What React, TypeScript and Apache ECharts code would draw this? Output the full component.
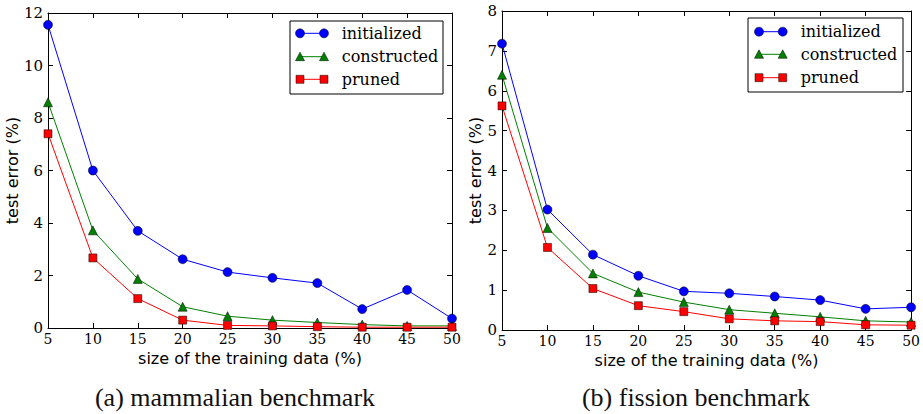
import React, { useEffect, useRef } from "react";
import * as echarts from "echarts";

const xValues = [5, 10, 15, 20, 25, 30, 35, 40, 45, 50];
const seriesNames = ["initialized", "constructed", "pruned"];
const seriesColors = ["#0000ff", "#008000", "#ff0000"];
const seriesSymbols = ["circle", "triangle", "rect"];

const mammalInitialized = [11.55, 6.0, 3.7, 2.62, 2.13, 1.91, 1.71, 0.72, 1.45, 0.36];
const mammalConstructed = [8.6, 3.72, 1.87, 0.81, 0.45, 0.3, 0.21, 0.13, 0.08, 0.08];
const mammalPruned = [7.4, 2.67, 1.12, 0.3, 0.1, 0.08, 0.05, 0.03, 0.03, 0.03];

const fissionInitialized = [7.18, 3.02, 1.89, 1.36, 0.97, 0.92, 0.84, 0.75, 0.53, 0.57];
const fissionConstructed = [6.4, 2.56, 1.42, 0.95, 0.7, 0.51, 0.42, 0.33, 0.23, 0.2];
const fissionPruned = [5.62, 2.07, 1.04, 0.61, 0.46, 0.28, 0.23, 0.21, 0.13, 0.12];

const xAxisTitle = "size of the training data (%)";
const yAxisTitle = "test error (%)";
const captions = ["(a) mammalian benchmark", "(b) fission benchmark"];

const SERIF = "DejaVu Serif";
const SANS = "DejaVu Sans";
const CAPTION_FONT = "Liberation Serif";

function xAxisDef(gridIndex: number, position: "bottom" | "top", nameGap: number) {
  const bottom = position === "bottom";
  return {
    type: "value",
    gridIndex,
    position,
    min: 5,
    max: 50,
    interval: 5,
    axisLine: { show: true, onZero: false, lineStyle: { color: "#000", width: 1 } },
    axisTick: { show: true, inside: true, length: 5, lineStyle: { color: "#000", width: 1 } },
    axisLabel: {
      show: bottom,
      margin: 4,
      fontFamily: SERIF,
      fontSize: 14,
      color: "#000",
    },
    splitLine: { show: false },
    name: bottom ? xAxisTitle : "",
    nameLocation: "middle",
    nameGap,
    nameTextStyle: { fontFamily: SANS, fontSize: 16, color: "#000" },
  };
}

function yAxisDef(
  gridIndex: number,
  position: "left" | "right",
  max: number,
  interval: number,
  nameGap: number
) {
  const left = position === "left";
  return {
    type: "value",
    gridIndex,
    position,
    min: 0,
    max,
    interval,
    axisLine: { show: true, onZero: false, lineStyle: { color: "#000", width: 1 } },
    axisTick: { show: true, inside: true, length: 5, lineStyle: { color: "#000", width: 1 } },
    axisLabel: {
      show: left,
      margin: 5,
      fontFamily: SERIF,
      fontSize: 15,
      color: "#000",
    },
    splitLine: { show: false },
    name: left ? yAxisTitle : "",
    nameLocation: "middle",
    nameGap,
    nameRotate: 90,
    nameTextStyle: { fontFamily: SANS, fontSize: 16, color: "#000" },
  };
}

function lineSeries(name: string, idx: number, axisIndex: number, ys: number[]) {
  const sym = seriesSymbols[idx];
  return {
    type: "line",
    name,
    xAxisIndex: axisIndex * 2,
    yAxisIndex: axisIndex * 2,
    data: xValues.map((x, i) => [x, ys[i]]),
    symbol: sym,
    symbolSize: sym === "circle" ? 9 : sym === "triangle" ? 9 : 8,
    showAllSymbol: true,
    clip: true,
    lineStyle: { color: seriesColors[idx], width: 1 },
    itemStyle: { color: seriesColors[idx], borderColor: "#000", borderWidth: 0.5 },
    emphasis: { disabled: true },
  };
}

function legendGraphic(
  boxX: number,
  boxY: number,
  boxW: number,
  boxH: number,
  rowYs: number[],
  lineX0: number,
  lineX1: number,
  textX: number
) {
  const children: any[] = [
    {
      type: "rect",
      shape: { x: boxX, y: boxY, width: boxW, height: boxH },
      style: { fill: "#fff", stroke: "#000", lineWidth: 1 },
    },
  ];
  seriesNames.forEach((name, i) => {
    const y = rowYs[i];
    const color = seriesColors[i];
    children.push({
      type: "line",
      shape: { x1: lineX0, y1: y, x2: lineX1, y2: y },
      style: { stroke: color, lineWidth: 1 },
    });
    [lineX0, lineX1].forEach((cx) => {
      if (seriesSymbols[i] === "circle") {
        children.push({
          type: "circle",
          shape: { cx, cy: y, r: 4.5 },
          style: { fill: color, stroke: "#000", lineWidth: 0.5 },
        });
      } else if (seriesSymbols[i] === "triangle") {
        children.push({
          type: "polygon",
          shape: {
            points: [
              [cx, y - 4.5],
              [cx + 4.5, y + 4],
              [cx - 4.5, y + 4],
            ],
          },
          style: { fill: color, stroke: "#000", lineWidth: 0.5 },
        });
      } else {
        children.push({
          type: "rect",
          shape: { x: cx - 4, y: y - 4, width: 8, height: 8 },
          style: { fill: color, stroke: "#000", lineWidth: 0.5 },
        });
      }
    });
    children.push({
      type: "text",
      x: textX,
      y,
      style: {
        text: name,
        font: `16px "${SERIF}"`,
        fill: "#000",
        textAlign: "left",
        textVerticalAlign: "middle",
        verticalAlign: "middle",
      },
    });
  });
  return { type: "group", z: 100, children };
}

function captionGraphic(text: string, x: number) {
  return {
    type: "text",
    x,
    y: 397,
    style: {
      text,
      font: `26px "${CAPTION_FONT}"`,
      fill: "#111",
      textAlign: "center",
      textVerticalAlign: "middle",
      verticalAlign: "middle",
    },
  };
}

export default function App() {
  const ref = useRef<HTMLDivElement>(null);

  useEffect(() => {
    if (!ref.current) return;
    const chart = echarts.init(ref.current, undefined, { renderer: "svg" });
    const option: any = {
      animation: false,
      backgroundColor: "#fff",
      grid: [
        { left: 48, top: 13, width: 404, height: 315, containLabel: false },
        { left: 502, top: 11, width: 410, height: 319, containLabel: false },
      ],
      xAxis: [
        xAxisDef(0, "bottom", 19),
        xAxisDef(0, "top", 0),
        xAxisDef(1, "bottom", 19),
        xAxisDef(1, "top", 0),
      ],
      yAxis: [
        yAxisDef(0, "left", 12, 2, 24),
        yAxisDef(0, "right", 12, 2, 0),
        yAxisDef(1, "left", 8, 1, 18),
        yAxisDef(1, "right", 8, 1, 0),
      ],
      series: [
        lineSeries(seriesNames[0], 0, 0, mammalInitialized),
        lineSeries(seriesNames[1], 1, 0, mammalConstructed),
        lineSeries(seriesNames[2], 2, 0, mammalPruned),
        lineSeries(seriesNames[0], 0, 1, fissionInitialized),
        lineSeries(seriesNames[1], 1, 1, fissionConstructed),
        lineSeries(seriesNames[2], 2, 1, fissionPruned),
      ],
      graphic: [
        legendGraphic(290, 21, 153, 73, [33.3, 56.7, 79.3], 300, 324, 341.7),
        legendGraphic(748, 18, 155, 74, [31.7, 54.3, 77.7], 759, 782.7, 800.7),
        captionGraphic(captions[0], 235),
        captionGraphic(captions[1], 696),
      ],
    };
    chart.setOption(option);
    return () => chart.dispose();
  }, []);

  return (
    <div
      ref={ref}
      style={{ position: "fixed", left: 0, top: 0, width: 923, height: 414, background: "#fff" }}
    />
  );
}
